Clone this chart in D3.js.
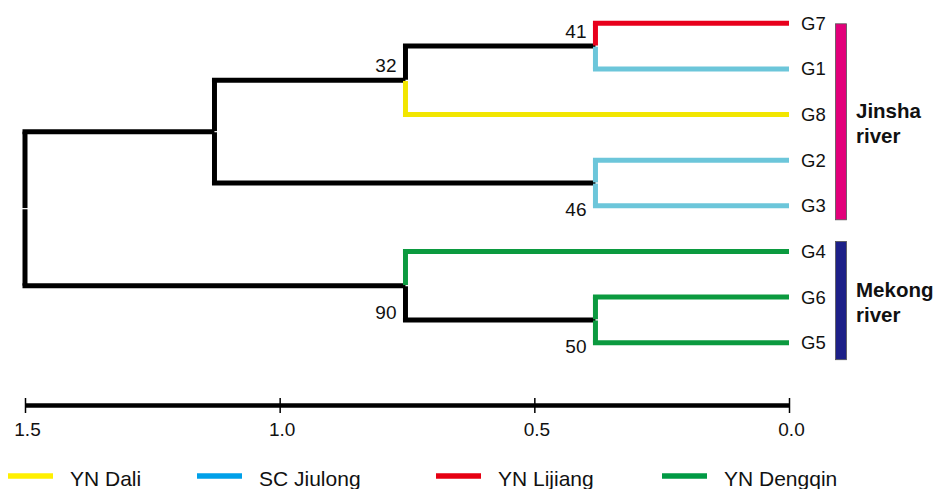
<!DOCTYPE html>
<html>
<head>
<meta charset="utf-8">
<script src="https://cdn.jsdelivr.net/npm/d3@7"></script>
<style>
  html, body { margin: 0; padding: 0; background: #fff; }
  svg { display: block; font-family: "Liberation Sans", Arial, Helvetica, sans-serif; }
</style>
</head>
<body>
<svg id="chart" width="936" height="489"></svg>
<script>
// Leaves in display order (top to bottom) and the population each belongs to
const leaves = ["G7", "G1", "G8", "G2", "G3", "G4", "G6", "G5"];
const leafGroup = ["YN Lijiang", "SC Jiulong", "YN Dali", "SC Jiulong", "SC Jiulong", "YN Dengqin", "YN Dengqin", "YN Dengqin"];

// Internal nodes: [id, child A, child B, height (distance), bootstrap support]
const nodeIds      = ["n41", "n46", "n50", "n32", "n90", "nJ", "root"];
const nodeChildA   = ["G7", "G2", "G6", "n41", "G4", "n32", "nJ"];
const nodeChildB   = ["G1", "G3", "G5", "G8", "n50", "n46", "n90"];
const nodeHeights  = [0.380, 0.380, 0.380, 0.753, 0.753, 1.128, 1.5];
const nodeSupport  = [41, 46, 50, 32, 90, null, null];

// Distance axis
const axisTicks = [1.5, 1.0, 0.5, 0.0];

// Populations shown in the key
const groups = ["YN Dali", "SC Jiulong", "YN Lijiang", "YN Dengqin"];
const groupKeyColors = ["#fff000", "#00a0e9", "#e60012", "#009a44"];
const groupTreeColors = ["#f2e600", "#6cc6da", "#e8001c", "#0b9a3f"];

// River brackets
const rivers = ["Jinsha river", "Mekong river"];
const riverFirst = ["G7", "G4"];
const riverLast = ["G3", "G5"];
const riverColors = ["#e2007a", "#1d2088"];

const svg = d3.select("#chart");
const x = d3.scaleLinear().domain([1.5, 0]).range([25, 789]);
const y = d3.scalePoint().domain(leaves).range([23.3, 342.7]);
const treeColor = d3.scaleOrdinal().domain(groups).range(groupTreeColors);
const keyColor = d3.scaleOrdinal().domain(groups).range(groupKeyColors);

// Build the hierarchy from a parent table
const rows = [];
nodeIds.forEach((id, i) => {
  rows.push({ id, height: nodeHeights[i], support: nodeSupport[i] });
});
leaves.forEach((id, i) => rows.push({ id, height: 0, group: leafGroup[i], support: null }));
const parentOf = {};
nodeIds.forEach((id, i) => { parentOf[nodeChildA[i]] = id; parentOf[nodeChildB[i]] = id; });
rows.forEach(r => r.parentId = parentOf[r.id]);
const root = d3.stratify().id(d => d.id).parentId(d => d.parentId)(rows);

// Keep child order as listed, position nodes
const order = {};
nodeIds.forEach((id, i) => order[id] = [nodeChildA[i], nodeChildB[i]]);
root.eachAfter(n => {
  if (n.children) {
    n.children.sort((a, b) => order[n.id].indexOf(a.id) - order[n.id].indexOf(b.id));
    n.py = d3.mean(n.children, c => c.py);
  } else {
    n.py = y(n.id);
  }
  n.px = x(n.data.height);
});

const W = 5, half = W / 2;
const gTree = svg.append("g");

root.each(n => {
  if (!n.parent) return;
  const p = n.parent;
  const col = n.children ? "#000" : treeColor(n.data.group);
  const dir = n.py < p.py ? -1 : 1;
  // vertical half-segment from the parent junction toward this child
  gTree.append("line")
    .attr("x1", p.px).attr("x2", p.px)
    .attr("y1", p.py + dir * 0.6).attr("y2", n.py)
    .attr("stroke", col).attr("stroke-width", W);
  // horizontal branch to the child
  gTree.append("line")
    .attr("x1", p.px - half).attr("x2", n.px)
    .attr("y1", n.py).attr("y2", n.py)
    .attr("stroke", col).attr("stroke-width", W);
});

// Bootstrap support labels
const supportAbove = { n41: true, n32: true };
root.each(n => {
  if (n.data.support == null) return;
  gTree.append("text")
    .attr("x", n.px - 9)
    .attr("y", supportAbove[n.id] ? n.py - 8 : n.py + 33)
    .attr("text-anchor", "end")
    .attr("font-size", 19)
    .attr("fill", "#111")
    .text(n.data.support);
});

// Leaf labels
svg.append("g").selectAll("text").data(leaves).join("text")
  .attr("x", 801)
  .attr("y", d => y(d) + 6.5)
  .attr("font-size", 18.5)
  .attr("fill", "#111")
  .text(d => d);

// River brackets and labels
const barTopPad = [-0.5, 10];
const barBottomPad = [14, 17];
rivers.forEach((r, i) => {
  const y0 = y(riverFirst[i]) - barTopPad[i];
  const y1 = y(riverLast[i]) + barBottomPad[i];
  svg.append("rect")
    .attr("x", 835.5).attr("y", y0)
    .attr("width", 11).attr("height", y1 - y0)
    .attr("fill", riverColors[i])
    .attr("stroke", "#555").attr("stroke-width", 0.8);
  const mid = (y0 + y1) / 2;
  const words = r.split(" ");
  svg.append("text")
    .attr("x", 856).attr("y", mid - 3.5)
    .attr("font-size", 20.5).attr("font-weight", "bold").attr("fill", "#111")
    .text(words[0]);
  svg.append("text")
    .attr("x", 856).attr("y", mid + 21.5)
    .attr("font-size", 20.5).attr("font-weight", "bold").attr("fill", "#111")
    .text(words[1]);
});

// Distance axis
const axisG = svg.append("g")
  .attr("transform", "translate(0,405)")
  .call(d3.axisBottom(x).tickValues(axisTicks).tickFormat(d3.format(".1f")).tickSizeOuter(0).tickSizeInner(8));
axisG.select(".domain").attr("stroke", "#000").attr("stroke-width", 4.5);
axisG.selectAll(".tick line").attr("y1", -7).attr("y2", 8).attr("stroke", "#000").attr("stroke-width", 1.5);
axisG.selectAll(".tick text")
  .attr("y", 31).attr("dy", 0).attr("dx", 2)
  .attr("font-size", 19).attr("font-family", "'Liberation Sans', Arial, sans-serif")
  .attr("fill", "#111");

// Key
const keyX = [8, 197, 436, 662];
const keyG = svg.append("g");
groups.forEach((g, i) => {
  keyG.append("line")
    .attr("x1", keyX[i]).attr("x2", keyX[i] + 45)
    .attr("y1", 476).attr("y2", 476)
    .attr("stroke", keyColor(g)).attr("stroke-width", 5.5);
  keyG.append("text")
    .attr("x", keyX[i] + 62).attr("y", 486)
    .attr("font-size", 21).attr("fill", "#111")
    .text(g);
});
</script>
</body>
</html>
